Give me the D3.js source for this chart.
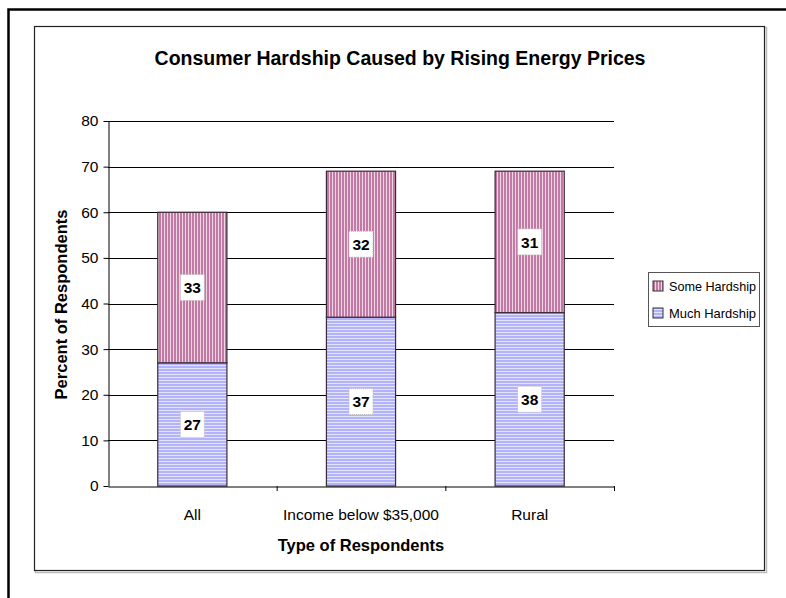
<!DOCTYPE html>
<html>
<head>
<meta charset="utf-8">
<script src="https://cdn.jsdelivr.net/npm/d3@7"></script>
<style>
  body { margin: 0; background: #fff; }
  text { font-family: "Liberation Sans", Arial, sans-serif; }
</style>
</head>
<body>
<div id="chart"></div>
<script>
// data
const categories = ["All", "Income below $35,000", "Rural"];
const muchHardship = [27, 37, 38];
const someHardship = [33, 32, 31];
const seriesNames = ["Much Hardship", "Some Hardship"];
const yTicks = [0, 10, 20, 30, 40, 50, 60, 70, 80];

const width = 786, height = 598;
const plot = {left: 108, right: 614, top: 121, bottom: 486};

const svg = d3.select("#chart").append("svg")
    .attr("width", width)
    .attr("height", height);

// patterns for the two series
const defs = svg.append("defs");
const pSome = defs.append("pattern")
    .attr("id", "someFill")
    .attr("patternUnits", "userSpaceOnUse")
    .attr("width", 3).attr("height", 3);
pSome.append("rect").attr("width", 3).attr("height", 3).attr("fill", "#c27aa4");
pSome.append("rect").attr("x", 2).attr("width", 1).attr("height", 3).attr("fill", "#efd6e4");

const pMuch = defs.append("pattern")
    .attr("id", "muchFill")
    .attr("patternUnits", "userSpaceOnUse")
    .attr("width", 3).attr("height", 3);
pMuch.append("rect").attr("width", 3).attr("height", 3).attr("fill", "#b3b3fa");
pMuch.append("rect").attr("y", 2).attr("width", 3).attr("height", 1).attr("fill", "#e4e4fd");

// outer frame (runs off the page on right and bottom)
svg.append("rect")
    .attr("x", 8.5).attr("y", 9.5)
    .attr("width", 800).attr("height", 620)
    .attr("fill", "none").attr("stroke", "#000").attr("stroke-width", 2.5);

// chart area frame with a faint shadow
svg.append("rect")
    .attr("x", 35.5).attr("y", 27.5)
    .attr("width", 731).attr("height", 545)
    .attr("fill", "none").attr("stroke", "#bbb").attr("stroke-width", 1.5);
svg.append("rect")
    .attr("x", 34.5).attr("y", 26.5)
    .attr("width", 730).attr("height", 544)
    .attr("fill", "#fff").attr("stroke", "#222").attr("stroke-width", 1.2);

const x = d3.scaleBand()
    .domain(categories)
    .range([plot.left, plot.right])
    .padding(0);

const y = d3.scaleLinear()
    .domain([0, 80])
    .range([plot.bottom, plot.top]);

const barW = x.bandwidth() * 0.41;

// gridlines
svg.append("g")
  .selectAll("line")
  .data(yTicks.filter(d => d > 0))
  .join("line")
    .attr("x1", plot.left).attr("x2", plot.right)
    .attr("y1", d => Math.round(y(d)) + 0.5)
    .attr("y2", d => Math.round(y(d)) + 0.5)
    .attr("stroke", "#000").attr("stroke-width", 1);

// y axis
svg.append("g")
    .attr("transform", `translate(${plot.left + 0.5},0)`)
    .call(d3.axisLeft(y).tickValues(yTicks).tickSize(5).tickSizeOuter(0).tickPadding(5))
    .call(g => g.select(".domain").attr("stroke", "#000"))
    .call(g => g.selectAll(".tick text")
        .attr("font-size", 15.5)
        .attr("font-family", "Liberation Sans, Arial, sans-serif")
        .attr("fill", "#000"));

// stacked bars
const stacked = categories.map((c, i) => ({
  cat: c,
  segs: [
    {name: seriesNames[0], y0: 0, y1: muchHardship[i], v: muchHardship[i], fill: "url(#muchFill)"},
    {name: seriesNames[1], y0: muchHardship[i], y1: muchHardship[i] + someHardship[i], v: someHardship[i], fill: "url(#someFill)"}
  ]
}));

const groups = svg.append("g")
  .selectAll("g")
  .data(stacked)
  .join("g");

groups.selectAll("rect")
  .data(d => d.segs.map(s => Object.assign({cat: d.cat}, s)))
  .join("rect")
    .attr("x", d => x(d.cat) + (x.bandwidth() - barW) / 2)
    .attr("y", d => y(d.y1))
    .attr("width", barW)
    .attr("height", d => y(d.y0) - y(d.y1))
    .attr("fill", d => d.fill)
    .attr("stroke", "#3a2a3a")
    .attr("stroke-width", 1.2);

// x axis
svg.append("g")
    .attr("transform", `translate(0,${plot.bottom + 0.5})`)
    .call(d3.axisBottom(x).tickSize(0).tickPadding(22))
    .call(g => g.select(".domain").attr("stroke", "#000"))
    .call(g => g.selectAll(".tick text")
        .attr("font-size", 15.5)
        .attr("font-family", "Liberation Sans, Arial, sans-serif")
        .attr("fill", "#000"));

// ticks between categories
svg.append("g")
  .selectAll("line")
  .data(categories)
  .join("line")
    .attr("x1", d => x(d) + x.bandwidth() + 0.5)
    .attr("x2", d => x(d) + x.bandwidth() + 0.5)
    .attr("y1", plot.bottom)
    .attr("y2", plot.bottom + 5)
    .attr("stroke", "#000");

// data labels
const labels = groups.selectAll("g.lbl")
  .data(d => d.segs.map(s => Object.assign({cat: d.cat}, s)))
  .join("g")
    .attr("class", "lbl")
    .attr("transform", d => `translate(${x(d.cat) + x.bandwidth() / 2},${y((d.y0 + d.y1) / 2)})`);

labels.append("rect")
    .attr("x", -12).attr("y", -13)
    .attr("width", 24).attr("height", 26)
    .attr("fill", "#fff")
    .attr("stroke", "#bbb")
    .attr("stroke-dasharray", "1,1");

labels.append("text")
    .attr("text-anchor", "middle")
    .attr("dy", "0.36em")
    .attr("font-size", 15.5)
    .attr("font-weight", "bold")
    .text(d => d.v);

// title
svg.append("text")
    .attr("x", 400).attr("y", 65)
    .attr("text-anchor", "middle")
    .attr("font-size", 19.5)
    .attr("font-weight", "bold")
    .text("Consumer Hardship Caused by Rising Energy Prices");

// axis titles
svg.append("text")
    .attr("x", 361).attr("y", 551)
    .attr("text-anchor", "middle")
    .attr("font-size", 16.5)
    .attr("font-weight", "bold")
    .text("Type of Respondents");

svg.append("text")
    .attr("transform", `translate(67,${(plot.top + plot.bottom) / 2 + 1}) rotate(-90)`)
    .attr("text-anchor", "middle")
    .attr("font-size", 16.5)
    .attr("font-weight", "bold")
    .text("Percent of Respondents");

// legend
const legend = svg.append("g");
legend.append("rect")
    .attr("x", 648.5).attr("y", 272.5)
    .attr("width", 111).attr("height", 54)
    .attr("fill", "#fff").attr("stroke", "#555");

const legendItems = [
  {name: seriesNames[1], fill: "url(#someFill)"},
  {name: seriesNames[0], fill: "url(#muchFill)"}
];

const li = legend.selectAll("g.item")
  .data(legendItems)
  .join("g")
    .attr("class", "item")
    .attr("transform", (d, i) => `translate(653,${286 + i * 27})`);

li.append("rect")
    .attr("x", 0).attr("y", -5)
    .attr("width", 10).attr("height", 10)
    .attr("fill", d => d.fill)
    .attr("stroke", "#333");

li.append("text")
    .attr("x", 16)
    .attr("dy", "0.36em")
    .attr("font-size", 13.5)
    .attr("textLength", 87)
    .attr("lengthAdjust", "spacingAndGlyphs")
    .text(d => d.name);
</script>
</body>
</html>
